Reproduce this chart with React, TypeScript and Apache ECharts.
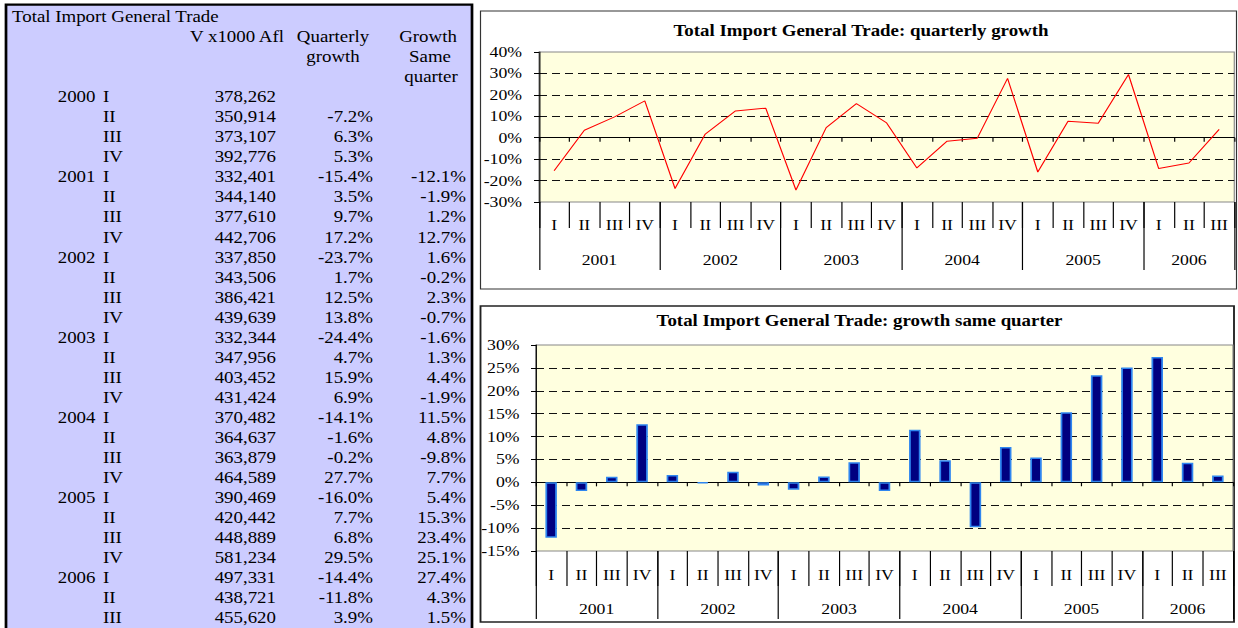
import React, { useEffect, useRef } from "react";
import * as echarts from "echarts";

// ---- data ----
const years = ["2000", "2001", "2002", "2003", "2004", "2005", "2006"];
const quarters = ["I", "II", "III", "IV"];
const importValues = [
  378262, 350914, 373107, 392776, 332401, 344140, 377610, 442706, 337850, 343506,
  386421, 439639, 332344, 347956, 403452, 431424, 370482, 364637, 363879, 464589,
  390469, 420442, 448889, 581234, 497331, 438721, 455620,
];
const quarterlyGrowth: (number | null)[] = [
  null, -7.2, 6.3, 5.3, -15.4, 3.5, 9.7, 17.2, -23.7, 1.7, 12.5, 13.8, -24.4, 4.7,
  15.9, 6.9, -14.1, -1.6, -0.2, 27.7, -16.0, 7.7, 6.8, 29.5, -14.4, -11.8, 3.9,
];
const sameQuarterGrowth: (number | null)[] = [
  null, null, null, null, -12.1, -1.9, 1.2, 12.7, 1.6, -0.2, 2.3, -0.7, -1.6, 1.3,
  4.4, -1.9, 11.5, 4.8, -9.8, 7.7, 5.4, 15.3, 23.4, 25.1, 27.4, 4.3, 1.5,
];
const tableTitle = "Total Import General Trade";
const chart1Title = "Total Import General Trade: quarterly growth";
const chart2Title = "Total Import General Trade: growth same quarter";
const chartStart = 4; // charts begin at 2001 I

// ---- layout helpers ----
const S = 1.18; // horizontal stretch of the original picture
const W = 1238 / S;
const X = (px: number) => px / S;
const FONT = "Liberation Serif";

const rowYear = (i: number) => years[Math.floor(i / 4)];
const rowQuarter = (i: number) => quarters[i % 4];
const pct = (v: number | null) => (v == null ? "" : v.toFixed(1) + "%");

const chartIdx = importValues.map((_, i) => i).slice(chartStart);
const quarterCats = chartIdx.map(rowQuarter);
const chartYears = Array.from(new Set(chartIdx.map(rowYear)));
const yearPoints: string[] = new Array(chartIdx.length * 2 + 1).fill("");
const yearTicks = new Set<number>();
{
  let q = 0;
  chartYears.forEach((y) => {
    const cnt = chartIdx.filter((i) => rowYear(i) === y).length;
    yearPoints[2 * q + cnt] = y;
    yearTicks.add(2 * q);
    q += cnt;
    yearTicks.add(2 * q);
  });
}

const axisFont = { fontFamily: FONT, fontSize: 15, color: "#000" };

function xAxes(gridIndex: number, qLen: number, yLen: number, qMargin: number, yMargin: number) {
  return [
    {
      type: "category",
      gridIndex,
      data: quarterCats,
      position: "bottom",
      boundaryGap: true,
      axisLine: { show: true, onZero: true, lineStyle: { color: "#000", width: 1 } },
      axisTick: { show: true, interval: 0, length: 4, lineStyle: { color: "#000" } },
      axisLabel: { show: false },
      splitLine: { show: false },
    },
    {
      type: "category",
      gridIndex,
      data: quarterCats,
      position: "bottom",
      boundaryGap: true,
      axisLine: { show: false, onZero: false },
      axisTick: { show: true, interval: 0, length: qLen, lineStyle: { color: "#000" } },
      axisLabel: { ...axisFont, interval: 0, margin: qMargin },
      splitLine: { show: false },
    },
    {
      type: "category",
      gridIndex,
      data: yearPoints,
      position: "bottom",
      boundaryGap: false,
      axisLine: { show: false, onZero: false },
      axisTick: {
        show: true,
        interval: (idx: number) => yearTicks.has(idx),
        length: yLen,
        lineStyle: { color: "#000" },
      },
      axisLabel: { ...axisFont, interval: 0, margin: yMargin },
      splitLine: { show: false },
    },
  ];
}

function yAxis(gridIndex: number, min: number, max: number, interval: number, margin: number) {
  return {
    type: "value",
    gridIndex,
    min,
    max,
    interval,
    axisLine: { show: true, lineStyle: { color: "#000" } },
    axisTick: { show: true, length: X(5), lineStyle: { color: "#000" } },
    axisLabel: { ...axisFont, formatter: "{value}%", margin: X(margin) },
    splitLine: {
      show: true,
      showMinLine: false,
      showMaxLine: false,
      lineStyle: { color: "#111", width: 1, type: [X(8), X(5)] },
    },
  };
}

function txt(x: number, y: number, text: string, align: string, extra: any = {}) {
  return {
    type: "text",
    x,
    y,
    silent: true,
    style: {
      text,
      fill: "#000",
      fontFamily: FONT,
      fontSize: 16,
      align,
      textAlign: align,
      verticalAlign: "middle",
      textVerticalAlign: "middle",
      ...extra,
    },
  };
}

export default function App() {
  const ref = useRef<HTMLDivElement>(null);
  useEffect(() => {
    if (!ref.current) return;
    const chart = echarts.init(ref.current, null, { renderer: "svg" });
    const rowTop = 86.7;
    const rowH = 20.2;
    const option: any = {
      animation: false,
      backgroundColor: "#fff",
      grid: [
        {
          left: X(539), top: 52, width: X(696.5), height: 150,
          show: true, backgroundColor: "#FFFFDF", borderColor: "#888", borderWidth: 1,
        },
        {
          left: X(536), top: 345, width: X(697), height: 206,
          show: true, backgroundColor: "#FFFFDF", borderColor: "#888", borderWidth: 1,
        },
        { left: 0, right: 0, top: rowTop, height: rowH * importValues.length, show: false },
      ],
      xAxis: [
        ...xAxes(0, 26, 68, 15.5, 50.5),
        ...xAxes(1, 35, 68, 16.5, 50.5),
        { type: "value", gridIndex: 2, min: 0, max: 1238, show: false },
      ],
      yAxis: [
        yAxis(0, -30, 40, 10, 17),
        yAxis(1, -15, 30, 5, 16.5),
        {
          type: "category",
          gridIndex: 2,
          inverse: true,
          show: false,
          data: importValues.map((_, i) => String(i)),
        },
      ],
      graphic: [
        {
          type: "rect", z: -10, silent: true,
          shape: { x: X(6), y: 4.7, width: X(466), height: 660 },
          style: { fill: "#CCCCFF", stroke: "#000", lineWidth: 2.3 },
        },
        {
          type: "rect", z: -10, silent: true,
          shape: { x: X(480.5), y: 11, width: X(756), height: 278 },
          style: { fill: "none", stroke: "#333", lineWidth: 1 },
        },
        {
          type: "rect", z: -10, silent: true,
          shape: { x: X(480.5), y: 306, width: X(753.5), height: 316 },
          style: { fill: "none", stroke: "#222", lineWidth: 1.6 },
        },
        txt(X(861), 30.5, chart1Title, "center", { fontWeight: "bold" }),
        txt(X(859.5), 321, chart2Title, "center", { fontWeight: "bold" }),
        txt(X(12), 16.5, tableTitle, "left"),
        txt(X(190), 36.5, "V x1000 Afl", "left"),
        txt(X(333), 36.5, "Quarterly", "center"),
        txt(X(333), 56.5, "growth", "center"),
        txt(X(428), 36.5, "Growth", "center"),
        txt(X(430), 56.5, "Same", "center"),
        txt(X(431), 76.5, "quarter", "center"),
      ],
      series: [
        {
          type: "line",
          xAxisIndex: 0,
          yAxisIndex: 0,
          data: quarterlyGrowth.slice(chartStart),
          symbol: "none",
          lineStyle: { color: "#FF0000", width: 1 },
          itemStyle: { color: "#FF0000" },
          z: 5,
        },
        {
          type: "bar",
          xAxisIndex: 3,
          yAxisIndex: 1,
          data: sameQuarterGrowth.slice(chartStart),
          barWidth: X(11.5),
          itemStyle: { color: "#000080", borderColor: "#2F86F0", borderWidth: 1.5 },
          z: 5,
        },
        {
          type: "custom",
          xAxisIndex: 6,
          yAxisIndex: 2,
          silent: true,
          data: importValues.map((v, i) => [0, i, v]),
          encode: { x: 0, y: 1 },
          renderItem: (params: any, api: any) => {
            const i = params.dataIndex;
            const y = api.coord([0, i])[1];
            const xAt = (px: number) => api.coord([px, i])[0];
            const children: any[] = [];
            if (i % 4 === 0) children.push(txt(xAt(95.5), y, rowYear(i), "right"));
            children.push(txt(xAt(103), y, rowQuarter(i), "left"));
            children.push(txt(xAt(276), y, importValues[i].toLocaleString("en-US"), "right"));
            children.push(txt(xAt(373), y, pct(quarterlyGrowth[i]), "right"));
            children.push(txt(xAt(466), y, pct(sameQuarterGrowth[i]), "right"));
            return { type: "group", children };
          },
          z: 3,
        },
      ],
    };
    chart.setOption(option);
    return () => chart.dispose();
  }, []);
  return (
    <div
      ref={ref}
      style={{
        position: "absolute",
        left: 0,
        top: 0,
        width: W,
        height: 628,
        transform: `scaleX(${S})`,
        transformOrigin: "0 0",
      }}
    />
  );
}
